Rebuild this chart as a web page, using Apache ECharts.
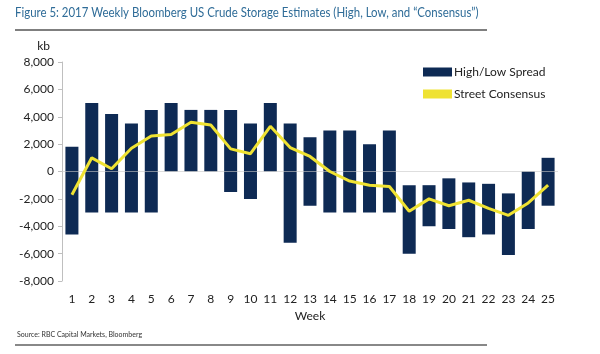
<!DOCTYPE html>
<html><head><meta charset="utf-8">
<script src="https://cdn.jsdelivr.net/npm/echarts@6/dist/echarts.min.js"></script>
<style>html,body{margin:0;padding:0;background:#fff}#c{width:600px;height:354px}</style>
</head><body><div id="c"></div>
<script>
const weeks = ['1','2','3','4','5','6','7','8','9','10','11','12','13','14','15','16','17','18','19','20','21','22','23','24','25'];
const highs = [1800,5000,4200,3500,4500,5000,4500,4500,4500,3500,5000,3500,2500,3000,3000,2000,3000,-1000,-1000,-500,-800,-900,-1600,0,1000];
const lows = [-4600,-3000,-3000,-3000,-3000,0,0,0,-1500,-2000,0,-5200,-2500,-3000,-3000,-3000,-3000,-6000,-4000,-4200,-4800,-4600,-6100,-4200,-2500];
const consensus = [-1700,1000,200,1700,2600,2700,3600,3400,1650,1300,3300,1750,1100,0,-700,-1000,-1100,-2900,-2000,-2500,-2100,-2700,-3200,-2300,-1000];
const yTicks = [-8000,8000,2000];

const spread = highs.map((h,i)=>h-lows[i]);
const font = 'Lato, "Open Sans", sans-serif';
const chart = echarts.init(document.getElementById('c'));
chart.setOption({
  animation:false,
  textStyle:{fontFamily:font},
  grid:{left:62,right:42,top:62,bottom:73},
  legend:{
    data:[{name:'High/Low Spread',icon:'rect'},{name:'Street Consensus',icon:'rect',itemStyle:{color:'#EFE232'}}],
    orient:'vertical',left:418,top:61,itemWidth:29,itemHeight:9,itemGap:10,
    textStyle:{fontSize:12,color:'#222',fontFamily:font,padding:[0,0,0,-3]}
  },
  xAxis:{type:'category',data:weeks,name:'Week',nameLocation:'middle',nameGap:24,
    nameTextStyle:{fontSize:12,color:'#222'},
    axisLine:{show:false},axisTick:{show:false},
    axisLabel:{fontSize:12,color:'#222',margin:12}},
  yAxis:{type:'value',min:yTicks[0],max:yTicks[1],interval:yTicks[2],
    name:'kb',nameLocation:'end',nameGap:10,nameTextStyle:{fontSize:12,color:'#222',align:'right',padding:[0,12,0,0]},
    axisLine:{show:true,lineStyle:{color:'#BFBFBF'}},
    axisTick:{show:true,length:4,lineStyle:{color:'#BFBFBF'}},
    splitLine:{show:false},
    axisLabel:{fontSize:12,color:'#222',margin:8,formatter:v=>v.toLocaleString('en-US')}},
  series:[
    {name:'base',type:'bar',stack:'s',stackStrategy:'all',data:lows,barWidth:13,
     itemStyle:{color:'rgba(0,0,0,0)'},silent:true},
    {name:'High/Low Spread',type:'bar',stack:'s',stackStrategy:'all',data:spread,barWidth:13,
     itemStyle:{color:'#0E2A54'}},
    {name:'Street Consensus',type:'line',data:consensus,symbol:'none',smooth:false,
     lineStyle:{color:'#EFE232',width:3},itemStyle:{color:'#EFE232'},z:5,
     markLine:{silent:true,symbol:'none',label:{show:false},
       lineStyle:{color:'rgba(200,200,200,0.6)',width:1,type:'solid'},data:[{yAxis:0}],z:3}}
  ],
  graphic:[
    {type:'text',x:15,y:6,scaleX:0.88,style:{text:'Figure 5: 2017 Weekly Bloomberg US Crude Storage Estimates (High, Low, and \u201CConsensus\u201D)',
      fontSize:13,fill:'#2F6C98',fontFamily:font}},
    {type:'line',shape:{x1:15,y1:30,x2:487,y2:30},style:{stroke:'#555',lineWidth:1.5}},
    {type:'text',left:17,top:331,style:{text:'Source: RBC Capital Markets, Bloomberg',fontSize:7,fill:'#333',fontFamily:font}},
    {type:'line',shape:{x1:15,y1:345,x2:487,y2:345},style:{stroke:'#888',lineWidth:2}}
  ]
});
</script></body></html>
